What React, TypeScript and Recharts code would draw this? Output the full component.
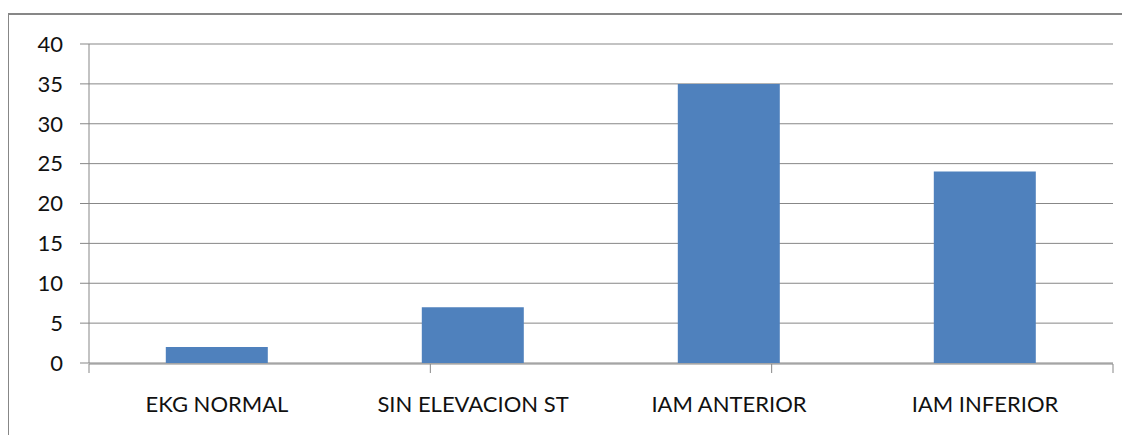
import React from "react";
import { BarChart, Bar, XAxis, YAxis, CartesianGrid } from "recharts";

const categories = ["EKG NORMAL", "SIN ELEVACION ST", "IAM ANTERIOR", "IAM INFERIOR"];
const casos = [2, 7, 35, 24];
const yTicks = [0, 5, 10, 15, 20, 25, 30, 35, 40];
const boundaryTicks = [0, 1, 2, 3, 4];

const data = categories.map((name, i) => ({ name, casos: casos[i] }));

const GRID = "#878787";
const FONT = "Lato, 'Open Sans', sans-serif";

const NoLabel = () => <g />;

export default function App() {
  return (
    <div style={{ position: "relative", width: 1130, height: 443, margin: -8, overflow: "hidden", background: "#fff" }}>
      {/* chart frame, cut off on the right and bottom */}
      <div
        style={{
          position: "absolute",
          left: 7,
          top: 13,
          width: 1200,
          height: 600,
          border: `2px solid ${GRID}`,
          boxSizing: "border-box",
        }}
      />
      <div style={{ position: "absolute", left: 0, top: 0 }}>
        <BarChart
          width={1130}
          height={443}
          data={data}
          margin={{ top: 44, right: 17, bottom: 78, left: 0 }}
          barCategoryGap="30%"
        >
          <CartesianGrid horizontal vertical={false} stroke={GRID} strokeWidth={1} />
          {/* thin band axis: only the category labels */}
          <XAxis
            dataKey="name"
            height={1}
            tickSize={0}
            tickLine={false}
            axisLine={false}
            tickMargin={33}
            interval={0}
            tick={{ fill: "#111", fontSize: 22, fontFamily: FONT }}
          />
          {/* axis line with tick marks between categories */}
          <XAxis
            xAxisId="edges"
            type="number"
            domain={[0, 4]}
            ticks={boundaryTicks}
            interval={0}
            height={1}
            stroke={GRID}
            tickSize={9}
            tick={NoLabel}
            allowDataOverflow
          />
          <YAxis
            width={89}
            domain={[0, 40]}
            ticks={yTicks}
            interval={0}
            stroke={GRID}
            tickSize={9}
            tickMargin={17}
            tick={{ fill: "#111", fontSize: 22, fontFamily: FONT }}
          />
          <Bar dataKey="casos" fill="#4f81bd" isAnimationActive={false} />
        </BarChart>
      </div>
    </div>
  );
}
